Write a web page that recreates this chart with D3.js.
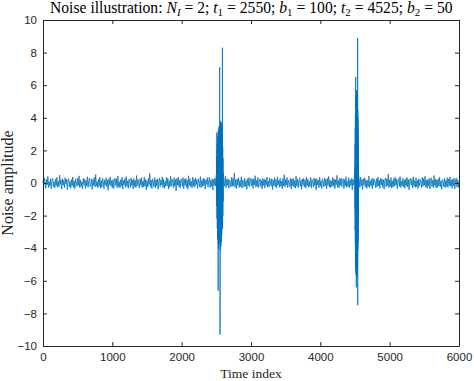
<!DOCTYPE html>
<html>
<head>
<meta charset="utf-8">
<script src="https://cdn.jsdelivr.net/npm/d3@7"></script>
<style>
  html, body { margin: 0; padding: 0; background: #fff; }
  svg { display: block; }
</style>
</head>
<body>
<svg id="chart" width="474" height="381"></svg>
<script>
// ---------- data ----------
const xTicks = [0, 1000, 2000, 3000, 4000, 5000, 6000];
const yTicks = [-10, -8, -6, -4, -2, 0, 2, 4, 6, 8, 10];

// baseline noise, one value every 10 time steps (t = 0, 10, ..., 6000)
const baseStep = 10;
const baseline = [
  0.18,-0.25,0.31,0.05,-0.34,0.22,-0.12,0.41,-0.28,0.09,
  -0.19,0.27,-0.36,0.14,0.29,-0.21,0.08,-0.31,0.24,-0.16,
  0.35,-0.27,0.11,-0.22,0.48,-0.09,0.20,-0.38,0.26,-0.13,
  0.17,-0.29,0.33,-0.06,0.23,-0.41,0.15,0.28,-0.24,0.10,
  -0.32,0.21,-0.18,0.37,-0.26,0.12,-0.35,0.25,0.04,-0.20,
  0.30,-0.15,0.44,-0.29,0.19,-0.23,0.07,-0.37,0.28,-0.11,
  0.24,-0.33,0.16,-0.19,0.39,-0.27,0.13,0.31,-0.22,-0.08,
  0.27,-0.40,0.21,-0.14,0.34,-0.25,0.52,-0.18,0.09,-0.30,
  0.23,-0.21,0.36,-0.32,0.14,-0.26,0.29,0.06,-0.36,0.19,
  -0.13,0.32,-0.24,0.18,-0.45,0.26,-0.10,0.38,-0.20,0.15,
  -0.28,0.22,-0.34,0.11,0.30,-0.17,0.25,-0.29,0.43,-0.23,
  0.08,-0.31,0.20,-0.19,0.35,-0.38,0.16,-0.12,0.27,-0.26,
  0.40,-0.21,0.13,-0.33,0.24,0.05,-0.27,0.31,-0.15,0.19,
  -0.36,0.28,-0.22,0.17,-0.30,0.46,-0.18,0.21,-0.09,-0.32,
  0.26,-0.14,0.33,-0.28,0.12,-0.24,0.37,-0.20,0.22,-0.41,
  0.15,-0.26,0.29,-0.11,0.58,-0.23,0.18,-0.35,0.25,0.07,
  -0.22,0.34,-0.30,0.20,-0.17,0.26,-0.39,0.13,0.31,-0.24,
  0.19,-0.12,0.38,-0.27,0.23,-0.33,0.10,-0.21,0.35,-0.16,
  0.28,-0.37,0.14,-0.25,0.42,-0.19,0.24,0.08,-0.29,0.32,
  -0.18,0.21,-0.48,0.27,-0.13,0.36,-0.23,0.16,-0.31,0.25,
  0.11,-0.20,0.33,-0.35,0.22,-0.14,0.29,-0.27,0.18,-0.38,
  0.44,-0.16,0.25,-0.22,0.09,-0.30,0.37,-0.19,0.23,-0.26,
  0.31,-0.11,0.20,-0.34,0.27,0.06,-0.24,0.39,-0.28,0.15,
  -0.21,0.30,-0.17,0.24,-0.37,0.19,-0.09,0.33,-0.25,0.12,
  0.36,-0.29,0.17,-0.20,0.26,-0.43,0.22,-0.15,0.30,-0.18,
  0.24,-0.32,0.13,0.28,-0.23,0.19,-0.36,0.34,-0.12,0.21,
  -0.27,0.16,-0.19,0.41,-0.30,0.23,-0.14,0.27,-0.33,0.18,
  0.09,-0.24,0.35,-0.21,0.28,-0.17,0.62,-0.26,0.20,-0.35,
  0.25,-0.13,0.32,-0.28,0.15,-0.22,0.38,-0.31,0.19,0.04,
  -0.25,0.29,-0.20,0.14,-0.39,0.26,-0.16,0.33,-0.23,0.17,
  0.30,-0.18,0.22,-0.34,0.27,-0.12,0.45,-0.26,0.16,-0.21,
  0.34,-0.29,0.11,0.25,-0.22,0.18,-0.37,0.28,-0.15,0.23,
  -0.31,0.20,-0.14,0.36,-0.27,0.13,-0.24,0.31,0.07,-0.19,
  0.26,-0.40,0.19,-0.16,0.33,-0.23,0.21,-0.30,0.38,-0.12,
  0.17,-0.26,0.29,-0.20,0.12,-0.35,0.27,-0.18,0.51,-0.24,
  0.21,-0.13,0.34,-0.29,0.18,0.05,-0.22,0.30,-0.36,0.24,
  -0.17,0.28,-0.25,0.15,-0.31,0.42,-0.19,0.22,-0.28,0.13,
  0.33,-0.21,0.16,-0.38,0.25,-0.14,0.29,-0.23,0.19,-0.32,
  0.37,-0.18,0.24,-0.27,0.10,-0.20,0.35,-0.30,0.21,0.08,
  -0.26,0.31,-0.16,0.23,-0.44,0.27,-0.12,0.18,-0.29,0.36,
  -0.20,0.14,-0.33,0.26,0.09,-0.24,0.32,-0.17,0.22,-0.37,
  0.29,-0.15,0.40,-0.25,0.18,-0.28,0.13,-0.21,0.34,-0.19,
  0.24,-0.34,0.20,-0.11,0.47,-0.26,0.17,-0.30,0.27,-0.14,
  0.31,-0.23,0.15,0.26,-0.35,0.21,-0.18,0.39,-0.27,0.12,
  -0.22,0.33,-0.29,0.19,-0.16,0.28,-0.41,0.24,-0.13,0.30,
  -0.25,0.18,-0.20,0.35,-0.31,0.14,0.23,-0.27,0.36,-0.17,
  0.22,-0.39,0.27,-0.12,0.31,-0.24,0.19,-0.33,0.16,-0.21,
  0.43,-0.28,0.14,-0.18,0.25,-0.36,0.30,-0.15,0.21,0.06,
  -0.30,0.26,-0.22,0.37,-0.19,0.17,-0.34,0.29,-0.11,0.24,
  -0.27,0.20,-0.38,0.15,0.32,-0.23,0.26,-0.16,0.55,-0.29,
  0.18,-0.21,0.33,-0.31,0.13,-0.25,0.28,-0.19,0.36,-0.14,
  0.23,-0.35,0.16,0.27,-0.22,0.40,-0.28,0.12,-0.18,0.30,
  -0.24,0.19,-0.32,0.25,-0.15,0.34,-0.26,0.21,-0.42,0.17,
  0.29,-0.13,0.22,-0.30,0.38,-0.20,0.14,-0.27,0.31,-0.23,
  0.16,-0.34,0.26,-0.17,0.20,0.08,-0.29,0.35,-0.21,0.27,
  -0.14,0.41,-0.25,0.18,-0.33,0.23,-0.19,0.29,-0.36,0.12,
  0.32,-0.22,0.17,-0.28,0.46,-0.16,0.24,-0.31,0.20,-0.26,
  0.27,-0.18,0.35,-0.24,0.13,-0.39,0.21,0.09,-0.23,0.30,
  -0.29,0.16,-0.21,0.33,-0.27,0.25,-0.15,0.38,-0.20,0.19,
  -0.32,0.24,-0.17,0.28,-0.35,0.14,0.31,-0.25,0.20,-0.28,
  0.15
];

// burst 1: t1 = 2550, b1 = 100 -> t = 2500 .. 2600, every 2 steps
const burst1Start = 2500, burst1Step = 2;
const burst1 = [
  0.5,-0.9,1.6,-1.4,3.1,-2.2,2.4,-2.8,2.0,-3.5,
  2.9,-3.1,2.6,-6.6,3.2,-3.8,2.9,-4.0,3.4,-3.3,
  3.0,-3.7,3.5,-2.9,7.1,-3.4,3.1,-9.3,3.3,-4.1,
  3.6,-3.0,3.8,-3.9,3.2,-3.5,3.7,-3.6,2.9,-3.2,
  3.4,-2.7,2.8,-2.5,8.3,-2.8,2.2,-2.0,1.5,-1.1,
  0.6
];

// burst 2: t2 = 4525, b2 = 50 -> t = 4500 .. 4550, every step
const burst2Start = 4500, burst2Step = 1;
const burst2 = [
  1.0,-1.6,2.4,-2.9,3.4,-3.8,4.2,-4.6,4.9,-5.1,
  6.5,-4.7,5.2,-5.4,4.8,-5.6,5.3,-4.9,5.5,-6.4,
  5.0,-5.2,5.6,-4.8,5.7,-5.3,5.1,-5.5,4.6,-5.8,
  5.4,-4.9,5.0,-5.7,4.7,-5.0,5.2,-4.4,8.9,-7.5,
  4.5,-4.1,4.0,-3.7,3.3,-3.0,2.6,-2.2,1.7,-1.3,
  0.6
];

// ---------- assemble series ----------
const b1 = burst1.map((v, i) => ({ t: burst1Start + i * burst1Step, v }));
const b2 = burst2.map((v, i) => ({ t: burst2Start + i * burst2Step, v }));
const b1End = b1[b1.length - 1].t, b2End = b2[b2.length - 1].t;
const base = baseline.map((v, i) => ({ t: i * baseStep, v }))
  .filter(d => !(d.t >= burst1Start && d.t <= b1End) && !(d.t >= burst2Start && d.t <= b2End));
const series = base.concat(b1, b2).sort((a, b) => a.t - b.t);

// ---------- layout ----------
const W = 474, H = 381;
const margin = { left: 43, right: 15, top: 20, bottom: 35 };
const svg = d3.select("#chart");
const x = d3.scaleLinear().domain([0, 6000]).range([margin.left, W - margin.right]);
const y = d3.scaleLinear().domain([-10, 10]).range([H - margin.bottom, margin.top]);
const axisColor = "#262626";
const tickFont = "'Liberation Sans', Arial, Helvetica, sans-serif";
const serif = "'Liberation Serif', 'Times New Roman', serif";

// line
const line = d3.line().x(d => x(d.t)).y(d => y(d.v));
svg.append("path")
  .datum(series)
  .attr("fill", "none")
  .attr("stroke", "#0072BD")
  .attr("stroke-width", 0.8)
  .attr("stroke-linejoin", "round")
  .attr("d", line);

// axes
function styleAxis(g, labels) {
  g.select(".domain").attr("stroke", axisColor).attr("stroke-width", 1);
  g.selectAll(".tick line").attr("stroke", axisColor).attr("stroke-width", 1);
  g.selectAll(".tick text")
    .attr("fill", labels ? axisColor : "none")
    .style("font-family", tickFont)
    .style("font-size", "11.5px");
}
const tl = 4;
svg.append("g").attr("transform", `translate(0,${y(-10)})`)
  .call(d3.axisBottom(x).tickValues(xTicks).tickFormat(d3.format("d")).tickSizeInner(-tl).tickSizeOuter(0).tickPadding(7))
  .call(g => styleAxis(g, true));
svg.append("g").attr("transform", `translate(0,${y(10)})`)
  .call(d3.axisTop(x).tickValues(xTicks).tickFormat("").tickSizeInner(-tl).tickSizeOuter(0))
  .call(g => styleAxis(g, false));
svg.append("g").attr("transform", `translate(${x(0)},0)`)
  .call(d3.axisLeft(y).tickValues(yTicks).tickFormat(d3.format("d")).tickSizeInner(-tl).tickSizeOuter(0).tickPadding(6))
  .call(g => styleAxis(g, true));
svg.append("g").attr("transform", `translate(${x(6000)},0)`)
  .call(d3.axisRight(y).tickValues(yTicks).tickFormat("").tickSizeInner(-tl).tickSizeOuter(0))
  .call(g => styleAxis(g, false));

// title
const titleParts = [
  { s: "Noise illustration:  " },
  { s: "N", i: true }, { s: "I", i: true, sub: true }, { s: " = 2; " },
  { s: "t", i: true }, { s: "1", sub: true }, { s: " = 2550; " },
  { s: "b", i: true }, { s: "1", sub: true }, { s: " = 100; " },
  { s: "t", i: true }, { s: "2", sub: true }, { s: " = 4525; " },
  { s: "b", i: true }, { s: "2", sub: true }, { s: " = 50" }
];
const titleSize = 15;
const title = svg.append("text")
  .attr("x", 50).attr("y", 13)
  .style("font-family", serif).style("font-size", titleSize + "px").attr("fill", "#000");
let prevSub = false;
titleParts.forEach(p => {
  const ts = title.append("tspan").text(p.s);
  if (p.i) ts.style("font-style", "italic");
  if (p.sub) { ts.attr("dy", prevSub ? 0 : 3).style("font-size", (titleSize * 0.7) + "px"); }
  else if (prevSub) { ts.attr("dy", -3); }
  prevSub = !!p.sub;
});
// fit title to the reference span (x 50 .. 453)
const tw = title.node().getComputedTextLength();
const targetW = 403;
if (tw > 0) {
  const s = titleSize * targetW / tw;
  title.style("font-size", s + "px");
  title.selectAll("tspan").filter(function () { return this.style.fontSize; })
    .style("font-size", (s * 0.7) + "px");
}

// axis labels
svg.append("text")
  .attr("x", (x(0) + x(6000)) / 2).attr("y", 378)
  .attr("text-anchor", "middle")
  .style("font-family", serif).style("font-size", "13.5px").attr("fill", "#262626")
  .text("Time index");
svg.append("text")
  .attr("transform", `translate(13,${(y(10) + y(-10)) / 2}) rotate(-90)`)
  .attr("text-anchor", "middle")
  .style("font-family", serif).style("font-size", "16px").attr("fill", "#262626")
  .text("Noise amplitude");
</script>
</body>
</html>
